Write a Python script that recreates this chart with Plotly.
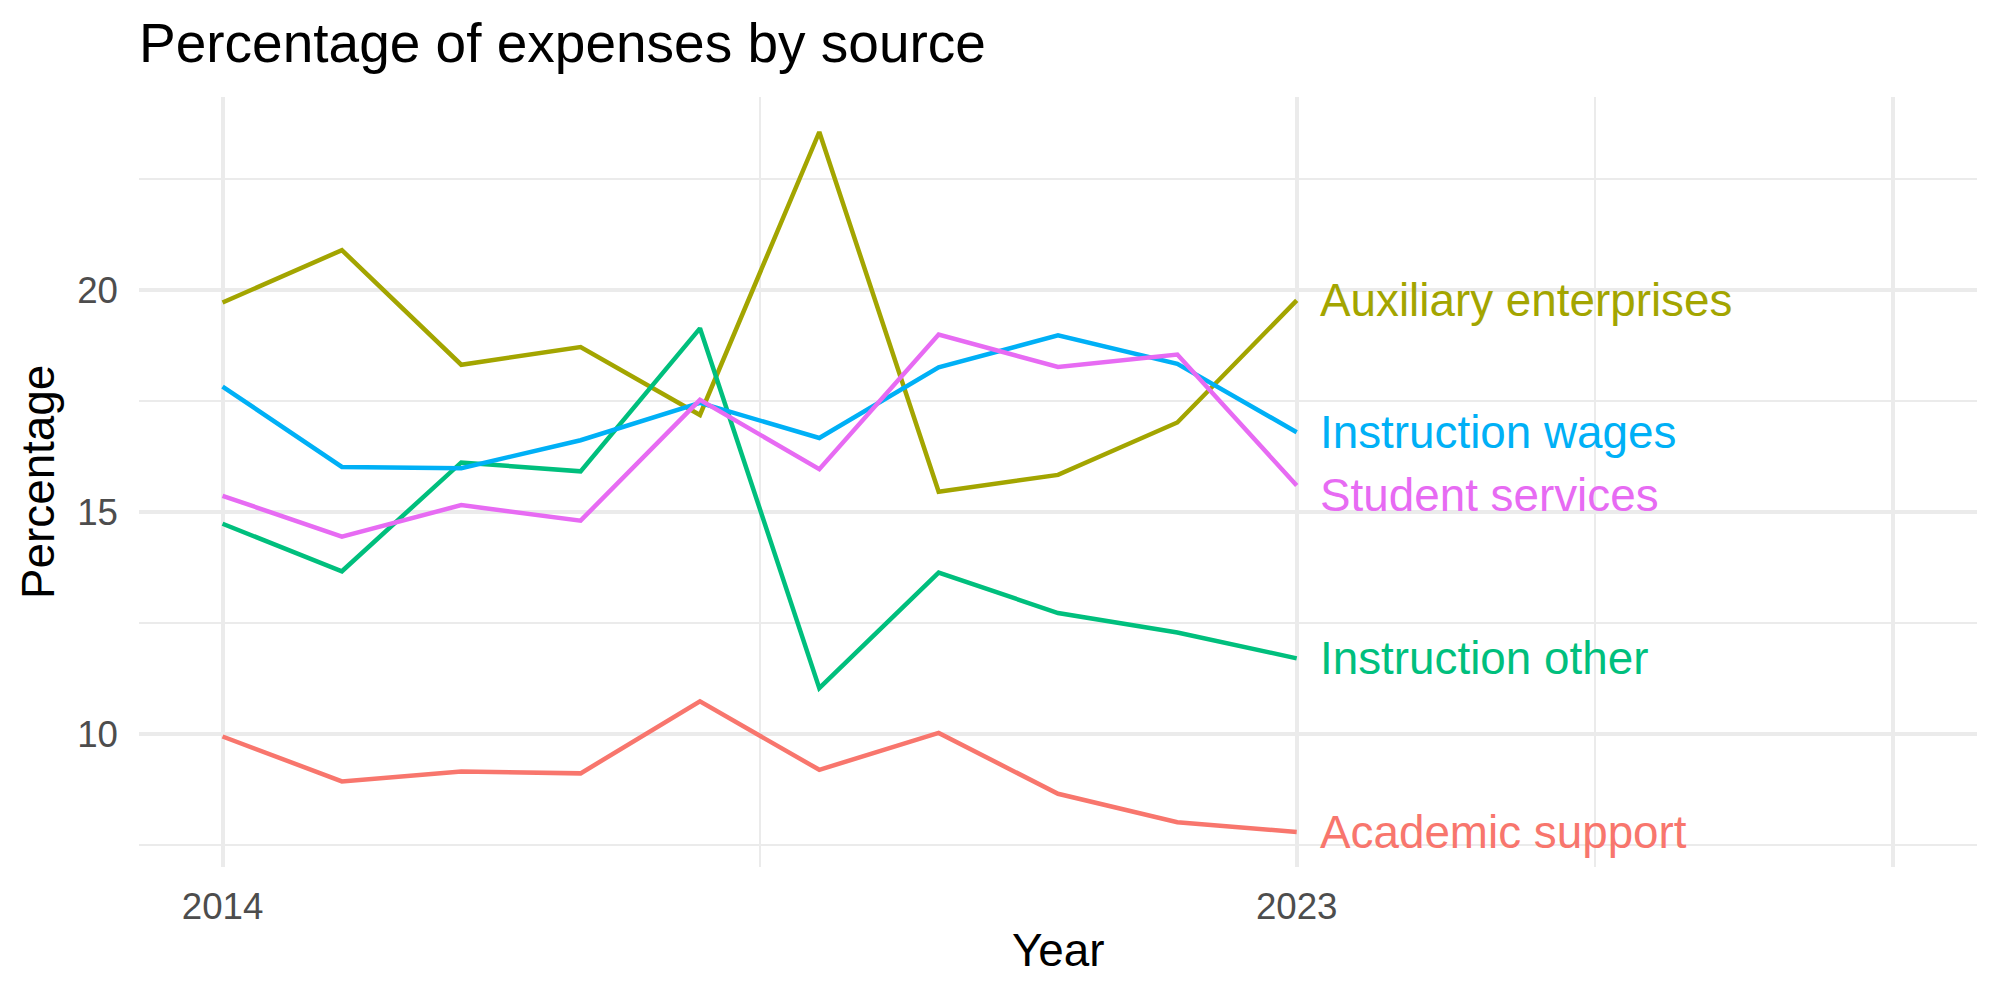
import plotly.graph_objects as go

years = [2014, 2015, 2016, 2017, 2018, 2019, 2020, 2021, 2022, 2023]

academic_support = [9.94, 8.93, 9.15, 9.11, 10.73, 9.19, 10.02, 8.65, 8.01, 7.79]
auxiliary_enterprises = [19.71, 20.89, 18.31, 18.71, 17.18, 23.55, 15.45, 15.83, 17.01, 19.76]
instruction_other = [14.73, 13.66, 16.11, 15.91, 19.13, 11.03, 13.63, 12.72, 12.28, 11.70]
instruction_wages = [17.82, 16.01, 15.98, 16.61, 17.45, 16.66, 18.25, 18.97, 18.33, 16.79]
student_services = [15.36, 14.44, 15.15, 14.80, 17.52, 15.96, 18.99, 18.26, 18.54, 15.59]

series_names = ["Academic support", "Auxiliary enterprises", "Instruction other",
                "Instruction wages", "Student services"]
series_values = [academic_support, auxiliary_enterprises, instruction_other,
                 instruction_wages, student_services]
colors = ["#F8766D", "#A3A500", "#00BF7D", "#00B0F6", "#E76BF3"]
label_shift_px = [0, 0, 0, 0, -10]

x_tick_vals = [2014, 2023, 2028]
x_tick_text = ["2014", "2023", ""]
x_minor_vals = [2018.5, 2025.5]
y_tick_vals = [10, 15, 20]
y_tick_text = ["10", "15", "20"]
y_minor_vals = [7.5, 12.5, 17.5, 22.5]
x_limits = [2014, 2028]

FONT = "Liberation Sans, Arial, Helvetica, sans-serif"
W, H = 2000, 1000
ML, MR, MT, MB = 139, 23, 97, 133

fig = go.Figure()
for name, vals, col, sh in zip(series_names, series_values, colors, label_shift_px):
    fig.add_trace(go.Scatter(x=years, y=vals, mode="lines", name=name,
                             line=dict(color=col, width=4.5), showlegend=False))
    fig.add_annotation(x=years[-1] + 0.18, y=vals[-1], xref="x", yref="y",
                       text=name, showarrow=False, xanchor="left", yanchor="middle",
                       yshift=sh,
                       font=dict(family=FONT, size=45.8, color=col))

allv = [v for s in series_values for v in s]
ylo, yhi = min(allv), max(allv)
ypad = (yhi - ylo) * 0.05
xpad = (x_limits[1] - x_limits[0]) * 0.05

grid = "#EBEBEB"
fig.update_layout(
    width=W, height=H,
    margin=dict(l=ML, r=MR, t=MT, b=MB, pad=0),
    paper_bgcolor="white", plot_bgcolor="white",
    font=dict(family=FONT),
    xaxis=dict(range=[x_limits[0] - xpad, x_limits[1] + xpad],
               tickmode="array", tickvals=x_tick_vals, ticktext=x_tick_text,
               showgrid=True, gridcolor=grid, gridwidth=4, zeroline=False,
               showline=False, ticks="", ticklabelstandoff=14,
               tickfont=dict(family=FONT, size=36.7, color="#4D4D4D"),
               minor=dict(tickmode="array", tickvals=x_minor_vals, showgrid=True,
                          gridcolor=grid, gridwidth=2)),
    yaxis=dict(range=[ylo - ypad, yhi + ypad],
               tickmode="array", tickvals=y_tick_vals, ticktext=y_tick_text,
               showgrid=True, gridcolor=grid, gridwidth=4, zeroline=False,
               showline=False, ticks="", ticklabelstandoff=20,
               tickfont=dict(family=FONT, size=36.7, color="#4D4D4D"),
               minor=dict(tickmode="array", tickvals=y_minor_vals, showgrid=True,
                          gridcolor=grid, gridwidth=2)),
)

pw = W - ML - MR
ph = H - MT - MB
fig.add_annotation(text="Percentage of expenses by source", xref="paper", yref="paper",
                   x=(137 - ML) / pw, y=(H - MB - 43) / ph, xanchor="left", yanchor="middle",
                   showarrow=False, font=dict(family=FONT, size=55, color="black"))
fig.add_annotation(text="Year", xref="paper", yref="paper",
                   x=0.5, y=(H - MB - 950) / ph, xanchor="center", yanchor="middle",
                   showarrow=False, font=dict(family=FONT, size=45.8, color="black"))
fig.add_annotation(text="Percentage", xref="paper", yref="paper",
                   x=(38 - ML) / pw, y=0.5, xanchor="center", yanchor="middle", textangle=-90,
                   showarrow=False, font=dict(family=FONT, size=45.8, color="black"))

fig.write_html("out.html")
